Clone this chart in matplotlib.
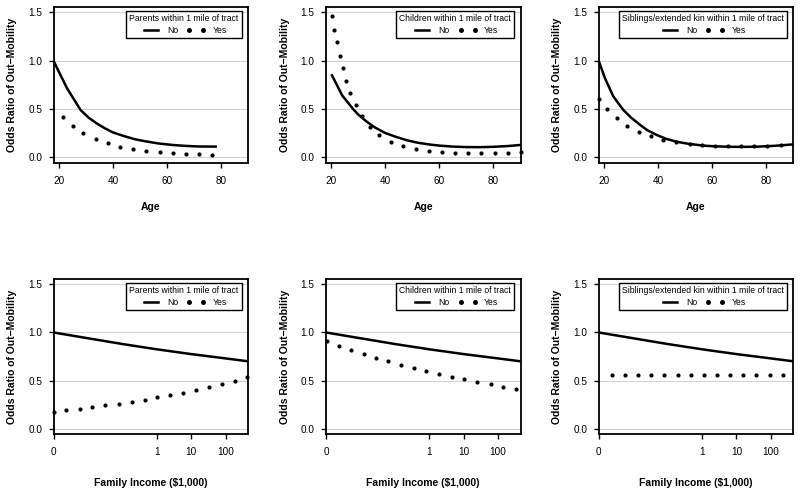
import matplotlib
matplotlib.use("Agg")
import matplotlib.pyplot as plt
from matplotlib.lines import Line2D

plt.rcParams['font.family'] = ['Liberation Sans', 'DejaVu Sans']

# ---------------- data ----------------
# Top row: odds ratio by age
age_no_parents = [18, 20, 23, 26, 28, 31, 34, 37, 40, 44, 48, 52, 57, 62, 67, 72, 78.5]
or_no_parents = [1.00, 0.885, 0.715, 0.58, 0.49, 0.41, 0.35, 0.30, 0.257, 0.22, 0.187,
                 0.165, 0.142, 0.127, 0.117, 0.111, 0.11]
age_yes_parents = [21.7, 25.2, 29.1, 33.6, 38.1, 42.7, 47.6, 52.3, 57.3, 62.1, 66.9, 71.7, 76.5]
or_yes_parents = [0.415, 0.325, 0.25, 0.19, 0.145, 0.11, 0.086, 0.069, 0.055, 0.045,
                  0.038, 0.031, 0.027]

age_no_children = [20, 22, 24, 26, 28, 30, 33, 36, 40, 44, 48, 52, 56, 60, 65, 70, 75,
                   80, 85, 90]
or_no_children = [0.86, 0.75, 0.64, 0.57, 0.50, 0.44, 0.37, 0.31, 0.25, 0.21, 0.175,
                  0.15, 0.133, 0.12, 0.11, 0.105, 0.104, 0.108, 0.115, 0.127]
age_yes_children = [20.1, 21.1, 22.2, 23.2, 24.2, 25.3, 26.9, 29.0, 31.4, 34.3, 37.8,
                    42.0, 46.6, 51.3, 56.1, 61.1, 65.9, 70.7, 75.5, 80.5, 85.3, 90.0]
or_yes_children = [1.46, 1.32, 1.19, 1.05, 0.92, 0.79, 0.67, 0.54, 0.425, 0.315, 0.23,
                   0.16, 0.117, 0.086, 0.069, 0.055, 0.048, 0.045, 0.041, 0.041, 0.048,
                   0.055]

age_no_siblings = [18, 20.3, 23.4, 27.1, 30, 33.3, 36, 39.5, 43, 46.9, 51, 56.7, 61,
                   66.6, 71, 76.5, 83, 90]
or_no_siblings = [1.0, 0.82, 0.63, 0.49, 0.41, 0.335, 0.28, 0.23, 0.19, 0.16, 0.14,
                  0.12, 0.113, 0.108, 0.107, 0.109, 0.118, 0.133]
age_yes_siblings = [18.1, 21.1, 24.7, 28.5, 32.8, 37.4, 41.9, 46.7, 51.6, 56.4, 61.2,
                    66.0, 70.8, 75.6, 80.4, 85.3]
or_yes_siblings = [0.60, 0.50, 0.41, 0.325, 0.26, 0.217, 0.183, 0.159, 0.138, 0.124,
                   0.117, 0.114, 0.114, 0.117, 0.12, 0.13]

# Bottom row: odds ratio by log10 family income ($1,000)
loginc_no = [-3, -2, -1, 0, 1, 2, 2.65]
or_no_income = [1.0, 0.94, 0.88, 0.825, 0.775, 0.73, 0.70]

loginc_yes_parents = [-3, -2.63, -2.24, -1.87, -1.49, -1.11, -0.72, -0.35, 0.02, 0.39,
                      0.77, 1.15, 1.52, 1.89, 2.26, 2.63]
or_inc_yes_parents = [0.176, 0.19, 0.207, 0.224, 0.242, 0.259, 0.28, 0.30, 0.325, 0.349,
                      0.373, 0.404, 0.432, 0.467, 0.498, 0.535]
loginc_yes_children = [-2.98, -2.63, -2.27, -1.91, -1.54, -1.19, -0.82, -0.45, -0.09,
                       0.28, 0.65, 1.02, 1.4, 1.78, 2.15, 2.53]
or_inc_yes_children = [0.909, 0.864, 0.819, 0.778, 0.736, 0.698, 0.664, 0.629, 0.594,
                       0.563, 0.535, 0.511, 0.483, 0.46, 0.436, 0.411]
loginc_yes_siblings = [-2.62, -2.23, -1.85, -1.47, -1.09, -0.71, -0.33, 0.05, 0.43,
                       0.81, 1.19, 1.58, 1.96, 2.34]
or_inc_yes_siblings = [0.56, 0.56, 0.56, 0.56, 0.56, 0.56, 0.56, 0.56, 0.56, 0.56,
                       0.56, 0.56, 0.56, 0.56]

legend_titles = ["Parents within 1 mile of tract",
                 "Children within 1 mile of tract",
                 "Siblings/extended kin within 1 mile of tract"]
series_labels = ["No", "Yes"]
y_ticks = [0.0, 0.5, 1.0, 1.5]
age_ticks = [20, 40, 60, 80]
inc_tick_pos = [-3, 0, 1, 2]
inc_tick_labels = ["0", "1", "10", "100"]
ylabel = "Odds Ratio of Out\u2212Mobility"

top_data = [
    (age_no_parents, or_no_parents, age_yes_parents, or_yes_parents),
    (age_no_children, or_no_children, age_yes_children, or_yes_children),
    (age_no_siblings, or_no_siblings, age_yes_siblings, or_yes_siblings),
]
bottom_data = [
    (loginc_no, or_no_income, loginc_yes_parents, or_inc_yes_parents),
    (loginc_no, or_no_income, loginc_yes_children, or_inc_yes_children),
    (loginc_no, or_no_income, loginc_yes_siblings, or_inc_yes_siblings),
]

# ---------------- figure ----------------
W, H = 800, 492
fig = plt.figure(figsize=(W / 100, H / 100), dpi=100)

col_px = [(53.5, 248.0), (326.0, 520.5), (598.7, 793.3)]
row_px = [(6.7, 163.0), (278.7, 434.3)]

LW_LINE = 1.8
MS = 3.0
TICK_FS = 7.2
LABEL_FS = 7.5
LEG_FS = 6.2


def style_axes(ax):
    for s in ax.spines.values():
        s.set_linewidth(1.3)
        s.set_color('black')
    ax.tick_params(direction='out', length=3.6, width=1.0, labelsize=TICK_FS,
                   pad=4.5, colors='black')
    ax.tick_params(axis='x', pad=5.5)
    ax.set_ylim(-0.06, 1.56)
    ax.set_yticks(y_ticks)
    ax.set_yticklabels([f"{v:.1f}" for v in y_ticks])
    for v in y_ticks:
        ax.axhline(v, color='#d4d4d4', lw=0.8, zorder=0)
    ax.set_ylabel(ylabel, fontsize=LABEL_FS, fontweight='bold', labelpad=8)


def add_legend(ax, title):
    h_no = Line2D([], [], color='black', lw=LW_LINE)
    h_yes = Line2D([], [], color='black', ls='none', marker='o', markersize=MS * 0.85)
    leg = ax.legend([h_no, h_yes], series_labels, title=title, ncol=2,
                    loc='upper right', bbox_to_anchor=(0.967, 0.972),
                    borderaxespad=0, fontsize=LEG_FS, title_fontsize=LEG_FS,
                    handlelength=2.25, handletextpad=0.75, columnspacing=1.0,
                    borderpad=0.35, labelspacing=0.3, numpoints=2,
                    fancybox=False, framealpha=1, edgecolor='black')
    leg.get_frame().set_linewidth(1.0)
    return leg


for r, (rows, xl, lp) in enumerate([(top_data, "Age", 12),
                                    (bottom_data, "Family Income ($1,000)", 15)]):
    y0, y1 = row_px[r]
    for c in range(3):
        x0, x1 = col_px[c]
        ax = fig.add_axes([x0 / W, 1 - y1 / H, (x1 - x0) / W, (y1 - y0) / H])
        style_axes(ax)
        xn, yn, xy, yy = rows[c]
        ax.plot(xn, yn, color='black', lw=LW_LINE, solid_capstyle='butt', zorder=3)
        ax.plot(xy, yy, color='black', ls='none', marker='o', markersize=MS,
                markeredgewidth=0, zorder=3, clip_on=False)
        if r == 0:
            ax.set_xlim(18, 90)
            ax.set_xticks(age_ticks)
        else:
            ax.set_xlim(-3, 2.65)
            ax.set_xticks(inc_tick_pos)
            ax.set_xticklabels(inc_tick_labels)
        ax.set_xlabel(xl, fontsize=LABEL_FS, fontweight='bold', labelpad=lp)
        add_legend(ax, legend_titles[c])

fig.savefig("out.png", dpi=100)
